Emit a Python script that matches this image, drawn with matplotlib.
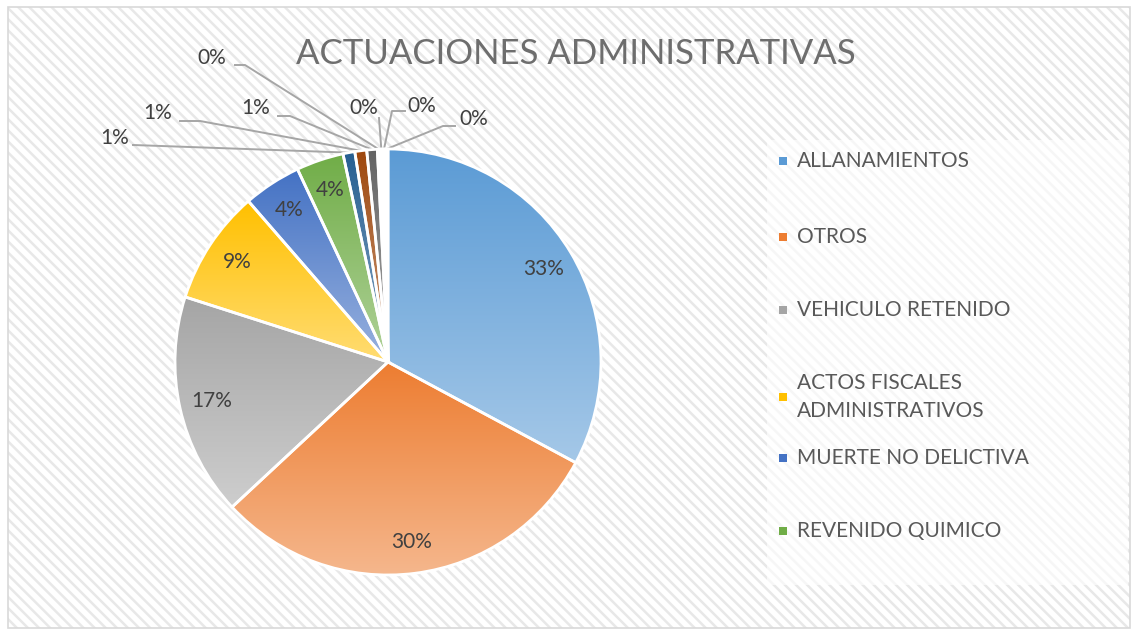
import numpy as np
import matplotlib.pyplot as plt
from matplotlib.patches import Rectangle
from matplotlib.colors import to_rgb

plt.rcParams['font.family'] = ['Lato', 'DejaVu Sans']
plt.rcParams['hatch.linewidth'] = 1.8

# datos
categorias = ['ALLANAMIENTOS', 'OTROS', 'VEHICULO RETENIDO',
              'ACTOS FISCALES\nADMINISTRATIVOS', 'MUERTE NO DELICTIVA', 'REVENIDO QUIMICO']
valores = [329, 303, 169, 87, 44, 36, 9, 9, 8, 2, 2, 2, 2]
colores = ['#5B9BD5', '#ED7D31', '#A5A5A5', '#FFC000', '#4472C4', '#70AD47',
           '#255E91', '#9E480E', '#636363', '#997300', '#264478', '#43682B', '#7CAFDD']

W, H = 1134, 636
fig = plt.figure(figsize=(W / 100, H / 100), dpi=100)

# fondo rayado + borde
fig.add_artist(Rectangle((8 / W, 8 / H), 1122 / W, 621 / H, transform=fig.transFigure,
                         facecolor='white', edgecolor='#E8E8E8', hatch='\\\\\\', lw=0, zorder=0))
fig.add_artist(Rectangle((8 / W, 8 / H), 1122 / W, 621 / H, transform=fig.transFigure,
                         facecolor='none', edgecolor='#D9D9D9', lw=1.2, zorder=1))
# caja leyenda
fig.add_artist(Rectangle((767 / W, (H - 585) / H), 361 / W, 445 / H, transform=fig.transFigure,
                         facecolor='white', edgecolor='none', alpha=0.65, zorder=1))

cx, cy, r = 388, 362, 213
ax = fig.add_axes([(cx - r) / W, (H - cy - r) / H, 2 * r / W, 2 * r / H])
ax.set_zorder(2)
ax.patch.set_alpha(0)


def px(x, y):
    return (x - cx) / r, (cy - y) / r


def etiqueta(p):
    return '%.0f%%' % p if p >= 2 else ''


wedges, textos, autotextos = ax.pie(valores, colors=colores, startangle=90, counterclock=False,
                                    autopct=etiqueta, pctdistance=0.85,
                                    wedgeprops=dict(edgecolor='white', linewidth=2, zorder=3),
                                    textprops=dict(color='#404040', fontsize=15))

# relleno degradado
for w, c in zip(wedges, colores):
    base = np.array(to_rgb(c))
    claro = base + (1 - base) * 0.45
    v = w.get_path().vertices
    y0, y1 = v[:, 1].min(), v[:, 1].max()
    t = np.linspace(0, 1, 200)[:, None, None]
    img = base * (1 - t) + claro * t
    im = ax.imshow(img, extent=[-1.05, 1.05, y0, y1], origin='upper', aspect='auto',
                   zorder=2, interpolation='bilinear')
    im.set_clip_path(w)
    w.set_facecolor('none')

for t in autotextos:
    t.set_zorder(5)

# etiquetas de las porciones pequenas (texto, inicio linea, codo)
pos = [((115, 138), (133, 145), None),
       ((158, 113), (180, 121), (200, 121)),
       ((256, 108), (278, 116), (290, 116)),
       ((212, 58), (235, 65), (245, 65)),
       ((364, 108), (379, 118), None),
       ((422, 106), (405, 111), (392, 111)),
       ((474, 119), (455, 126), (443, 126))]
total = sum(valores)
for i, (txt, ini, codo) in zip(range(6, 13), pos):
    w = wedges[i]
    ang = np.deg2rad((w.theta1 + w.theta2) / 2)
    borde = (np.cos(ang), np.sin(ang))
    pts = [px(*ini)] + ([px(*codo)] if codo else []) + [borde]
    xs, ys = zip(*pts)
    ax.plot(xs, ys, color='#A6A6A6', lw=1.4, zorder=1, clip_on=False)
    ax.text(*px(*txt), '%.0f%%' % (100 * valores[i] / total), ha='center', va='center',
            fontsize=15, color='#404040', clip_on=False)

ax.set_xlim(-1, 1)
ax.set_ylim(-1, 1)
ax.set_aspect('equal')
ax.axis('off')

fig.text(576 / W, 1 - 54 / H, 'ACTUACIONES ADMINISTRATIVAS', ha='center', va='center',
         fontsize=25, color='#6E6E6E', fontweight='normal')

# leyenda
ley_y = [161, 237, 310, 397, 458, 531]
for nombre, c, y in zip(categorias, colores, ley_y):
    fig.add_artist(Rectangle((779 / W, 1 - (y + 4) / H), 8 / W, 8 / H, transform=fig.transFigure,
                             facecolor=c, edgecolor='none', zorder=3))
    fig.text(797 / W, 1 - y / H, nombre, ha='left', va='center', fontsize=15,
             color='#595959', linespacing=1.45, zorder=3)

plt.savefig('out.png', dpi=100)
